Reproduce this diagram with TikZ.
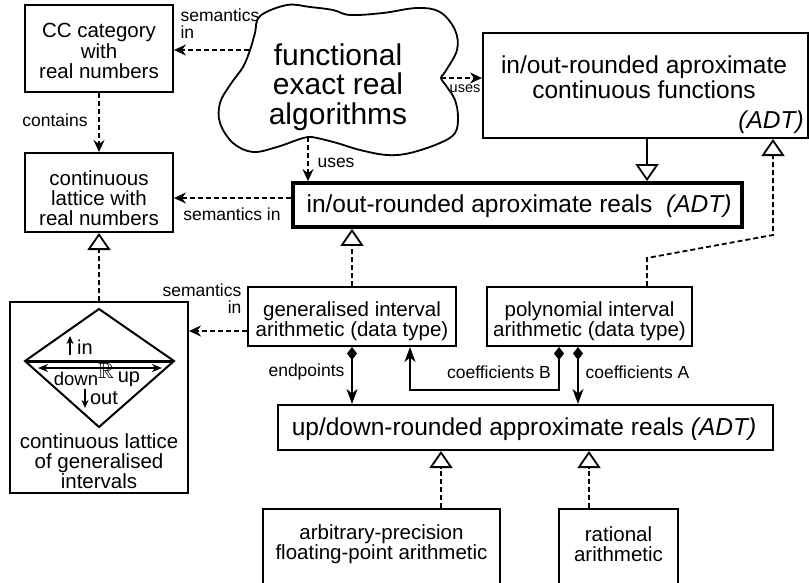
\documentclass[tikz,border=0pt]{standalone}
\usepackage{fontspec}
\setmainfont{Liberation Sans}
\usepackage{amssymb}
\usetikzlibrary{arrows.meta}

\begin{document}
\begin{tikzpicture}[x=1pt,y=-1pt,
  box/.style={draw, line width=2pt, inner sep=0pt},
  txt/.style={font=\fontsize{20.5}{20.3}\selectfont, align=center, inner sep=0pt},
  bigtxt/.style={font=\fontsize{24.5}{25}\selectfont, align=center, inner sep=0pt},
  lbl/.style={font=\fontsize{17.5}{17}\selectfont, inner sep=0pt},
  dep/.style={line width=1.8pt, dash pattern=on 5pt off 3pt,
    -{Stealth[length=12pt,width=11pt,inset=4pt]}},
  realize/.style={line width=1.8pt, dash pattern=on 5pt off 3pt,
    -{Triangle[length=17pt,width=23pt,fill=white,line width=1.8pt]}},
  inherit/.style={line width=1.8pt,
    -{Triangle[length=17pt,width=23pt,fill=white,line width=1.8pt]}},
  comp/.style={line width=1.8pt,
    {Diamond[length=13pt,width=10pt]}-{Stealth[length=15pt,width=11pt,inset=4.5pt]}},
]
\useasboundingbox (0,0) rectangle (809,582);
\clip (0,0) rectangle (809,582);

% the cloud of algorithms
\draw[line width=1.8pt] plot[smooth cycle, tension=0.6] coordinates {
  (260,16) (287,5) (310,7) (333,10) (350,15) (383,13) (417,8) (440,12)
  (455,30) (457,50) (445,72) (441,78) (447,87) (455,100) (458,117)
  (455,133) (440,143) (410,153) (387,155) (360,150) (337,143) (317,138)
  (308,137) (297,140) (277,147) (253,152) (233,143) (220,123) (220,103)
  (230,85) (243,67) (250,50) (255,33)};
\node[font=\fontsize{30}{29.5}\selectfont, align=center, inner sep=0pt]
  (cloud) at (338,87) {functional\\exact real\\algorithms};
\coordinate (cloudW) at (249,50);
\coordinate (cloudE) at (441,78);
\coordinate (cloudS) at (308,137);

% boxes
\node[box, minimum width=148pt, minimum height=87pt] (cc) at (99,48.5) {};
\node[txt] (cct) at (99,51) {CC category\\with\\real numbers};

\node[box, minimum width=148pt, minimum height=79pt] (lat) at (99,192.5) {};
\node[txt] (latt) at (99,198) {continuous\\lattice with\\real numbers};

\node[box, minimum width=325pt, minimum height=105pt] (fun) at (645.5,85.5) {};
\node[bigtxt] (funt) at (644,77) {in/out-rounded aproximate\\continuous functions};
\node[bigtxt, anchor=east] (funadt) at (804,122) {\itshape(ADT)};

\node[box, line width=3.8pt, minimum width=449pt, minimum height=44pt] (reals) at (517.5,205) {};
\node[bigtxt] (realst) at (519,206) {in/out-rounded aproximate reals\ \ \textit{(ADT)}};

\node[box, minimum width=208pt, minimum height=59pt] (gen) at (352,316.5) {};
\node[txt] (gent) at (352,321) {generalised interval\\arithmetic (data type)};

\node[box, minimum width=205pt, minimum height=59pt] (poly) at (589.5,316.5) {};
\node[txt] (polyt) at (589.5,321) {polynomial interval\\arithmetic (data type)};

\node[box, minimum width=178pt, minimum height=191pt] (ivl) at (99,397.5) {};
\node[txt] (ivlt) at (99,461) {continuous lattice\\of generalised\\intervals};

\node[box, minimum width=495pt, minimum height=45pt] (ud) at (525.5,427.5) {};
\node[bigtxt] (udt) at (524,429) {up/down-rounded approximate reals \textit{(ADT)}};

\node[box, minimum width=237pt, minimum height=120pt, anchor=north] (arb) at (381.5,508) {};
\node[txt] (arbt) at (381.5,544) {arbitrary-precision\\floating-point arithmetic};

\node[box, minimum width=119pt, minimum height=120pt, anchor=north] (rat) at (618.5,508) {};
\node[txt] (ratt) at (618.5,544) {rational\\arithmetic};

% the lattice of generalised intervals
\draw[line width=2pt, line join=miter] (99,309) -- (174,361) -- (99,427) -- (25,361) -- cycle;
\draw[line width=3pt] (25,361) -- (174,361);
\draw[line width=1.2pt, {Stealth[length=10pt,width=8pt,inset=3pt]}-{Stealth[length=10pt,width=8pt,inset=3pt]}]
  (38,368) -- (162,368);
\node[font=\fontsize{18.5}{18}\selectfont, inner sep=0pt] (dn) at (76,379) {down};
\node[font=\fontsize{22}{22}\selectfont, inner sep=0pt] (rr) at (106,371) {$\mathbb{R}$};
\node[font=\fontsize{20}{20}\selectfont, inner sep=0pt] (upl) at (129,379) {up};
\node[font=\fontsize{20}{20}\selectfont, inner sep=0pt] (inl) at (85,347) {in};
\node[font=\fontsize{20}{20}\selectfont, inner sep=0pt] (outl) at (104,398) {out};
\draw[line width=1.3pt, -{Stealth[length=8pt,width=7pt,inset=2.5pt]}] (70,355) -- (70,336);
\draw[line width=1.3pt, -{Stealth[length=8pt,width=7pt,inset=2.5pt]}] (85,389) -- (85,408);

% dependencies
\draw[dep] (cloudW) -- (cloudW -| cc.east);
\node[lbl, align=left] (l1) at (220,24) {semantics\\in};
\draw[dep] (cloudE) -- (cloudE -| fun.west);
\node[font=\fontsize{14.5}{14.5}\selectfont, inner sep=0pt] (l2) at (465,89) {uses};
\draw[dep] (cloudS) -- (cloudS |- reals.north);
\node[lbl] (l3) at (336,163) {uses};
\draw[dep] (cc.south) -- (lat.north);
\node[lbl] (l4) at (55,120) {contains};
\draw[dep] (reals.west |- 0,198) -- (lat.east |- 0,198);
\node[lbl] (l5) at (232,214) {semantics in};
\draw[dep] (gen.west |- 0,331) -- (ivl.east |- 0,331);
\node[lbl, align=right] (l6) at (202,298.5) {semantics\\in};

% realisations and inheritance
\draw[inherit] (fun.south -| 647,0) -- (reals.north -| 647,0);
\draw[realize] (ivl.north) -- (lat.south);
\draw[realize] (gen.north) -- (gen.north |- reals.south);
\draw[realize] (poly.north -| 647,0) -- (647,258) -- (773,235) -- (fun.south -| 773,0);
\draw[realize] (arb.north -| 441,0) -- (ud.south -| 441,0);
\draw[realize] (rat.north -| 589,0) -- (ud.south -| 589,0);

% compositions
\draw[comp] (gen.south) -- (gen.south |- ud.north);
\node[lbl] (l7) at (306.5,372) {endpoints};
\draw[comp] (poly.south -| 559,0) -- (559,390) -- (410,390) -- (gen.south -| 410,0);
\node[lbl] (l8) at (499,372) {coefficients B};
\draw[comp] (poly.south -| 578,0) -- (ud.north -| 578,0);
\node[lbl] (l9) at (637.5,372) {coefficients A};
\end{tikzpicture}
\end{document}
